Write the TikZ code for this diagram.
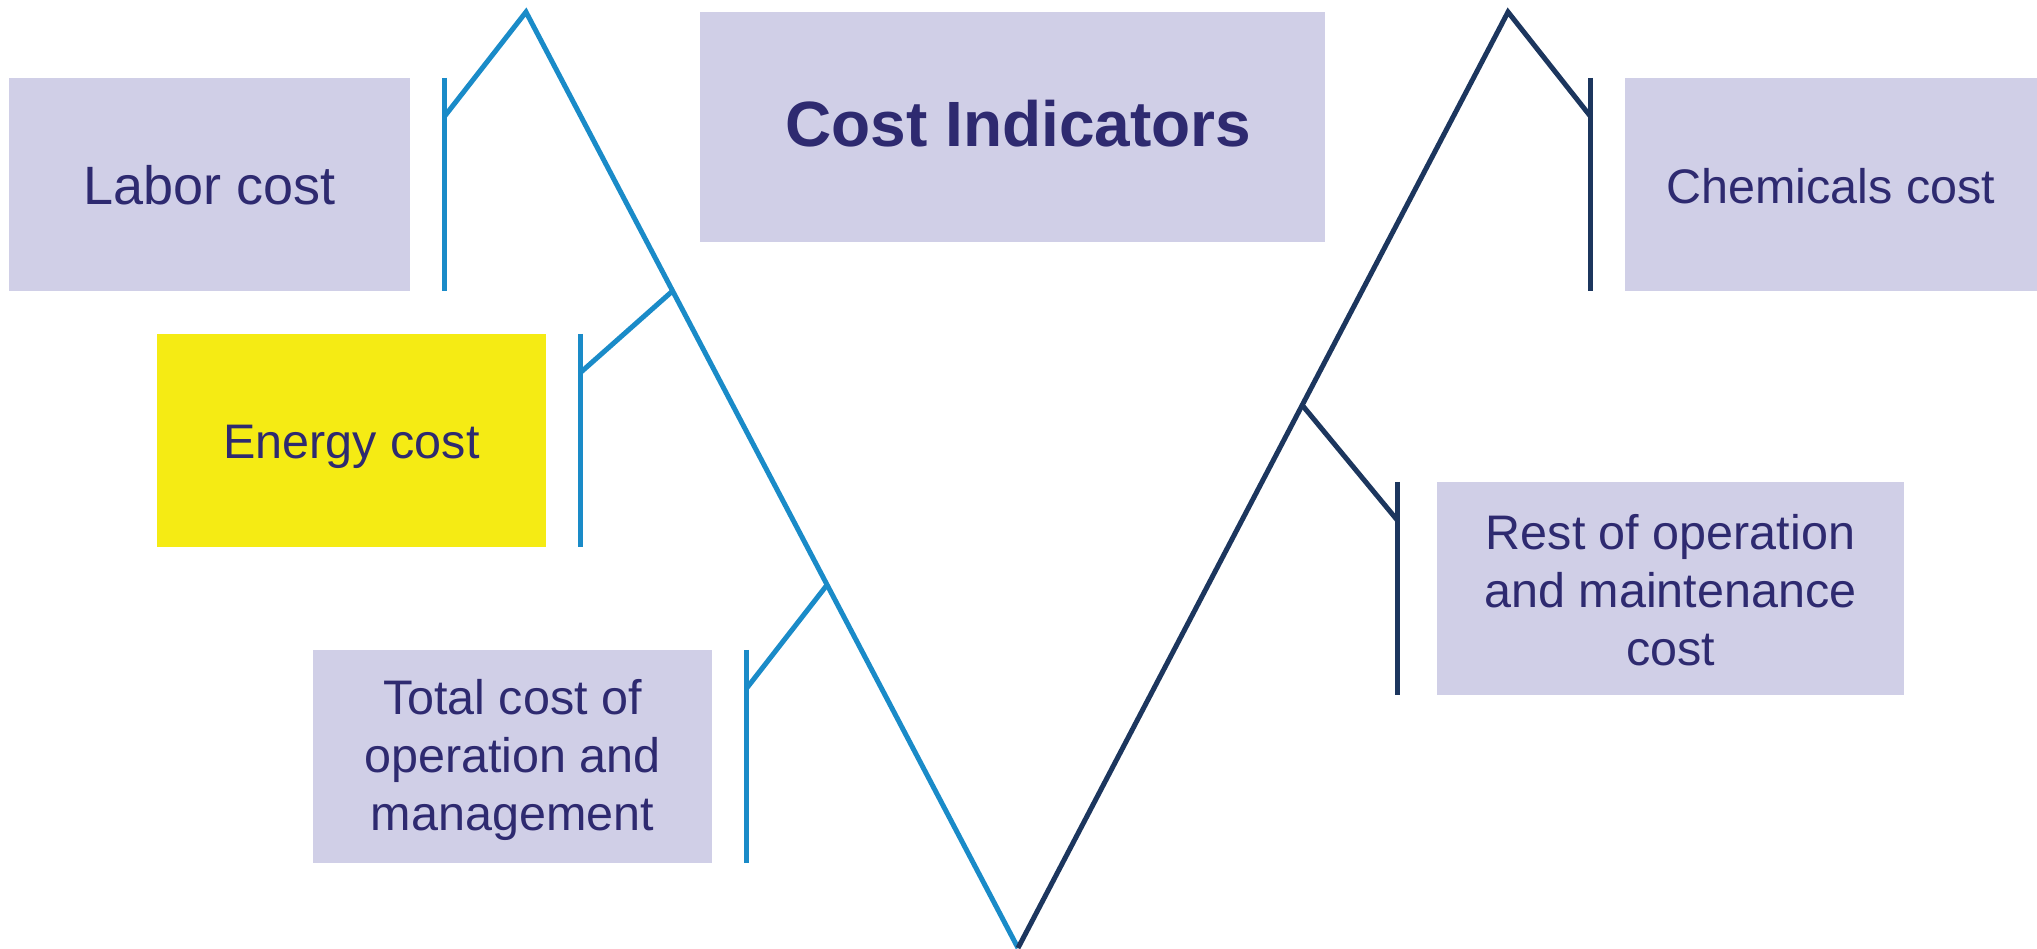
\documentclass[tikz,border=0pt]{standalone}
\usepackage{fontspec}
\setmainfont{Liberation Sans}
\usetikzlibrary{calc}

\definecolor{lavender}{HTML}{D0CFE7}
\definecolor{ink}{HTML}{2E2A70}
\definecolor{skyline}{HTML}{1A8BC8}
\definecolor{navyline}{HTML}{1C365E}
\definecolor{marker}{HTML}{F5EB14}

\tikzstyle{cost box}=[rectangle, fill=lavender, text=ink, align=center, minimum height=213pt, inner sep=0pt, text depth=0pt]
\tikzstyle{small text}=[font=\fontsize{48.5}{58}\selectfont]
\tikzstyle{left arm}=[skyline, line width=5pt]
\tikzstyle{right arm}=[navyline, line width=5pt]

\begin{document}
\begin{tikzpicture}[x=1pt, y=-1pt]
	\useasboundingbox (0,0) rectangle (2037,948);

	% Indicator boxes
	\node[cost box, minimum width=401pt, text height=39pt, font=\fontsize{54}{65}\selectfont] (labor) at (209.5,184.5) {Labor cost};
	\node[cost box, small text, fill=marker, minimum width=389pt, text height=35pt] (energy) at (351.5,440.5) {Energy cost};
	\node[cost box, small text, minimum width=399pt, text height=147pt] (total) at (512.5,756.5) {Total cost of\\operation and\\management};
	\node[cost box, minimum width=625pt, minimum height=230pt, text height=39pt, font=\fontsize{64}{77}\bfseries] (title) at (1012.5,127) {\hspace*{12pt}Cost Indicators};
	\node[cost box, small text, minimum width=412pt, text height=38pt] (chem) at (1831,184.5) {Chemicals cost};
	\node[cost box, small text, minimum width=467pt, text height=154pt] (rest) at (1670.5,588.5) {Rest of operation\\and maintenance\\cost};

	% The V
	\coordinate (left-apex) at (526,12);
	\coordinate (right-apex) at (1508,12);
	\coordinate (bottom) at (1018,948);
	\coordinate (energy-fork) at ($(left-apex)!0.298!(bottom)$);
	\coordinate (total-fork) at ($(left-apex)!0.612!(bottom)$);
	\coordinate (rest-fork) at ($(bottom)!0.58!(right-apex)$);

	% Ticks beside the boxes
	\foreach \b in {labor, energy, total}{
		\coordinate (\b-top) at ([xshift=34pt]\b.north east);
		\coordinate (\b-foot) at ([xshift=34pt]\b.south east);
		\coordinate (\b-joint) at ([yshift=-39pt]\b-top);
	}
	\coordinate (chem-top) at ([xshift=-34pt]chem.north west);
	\coordinate (chem-foot) at ([xshift=-34pt]chem.south west);
	\coordinate (chem-joint) at ([yshift=-39pt]chem-top);
	\coordinate (rest-top) at ([xshift=-39pt]rest.north west);
	\coordinate (rest-foot) at ([xshift=-39pt]rest.south west);
	\coordinate (rest-joint) at ([yshift=-39pt]rest-top);

	\foreach \b in {labor, energy, total}{ \draw[left arm] (\b-top) -- (\b-foot); }
	\foreach \b in {chem, rest}{ \draw[right arm] (\b-top) -- (\b-foot); }

	\draw[left arm] (labor-joint) -- (left-apex) -- (bottom);
	\draw[left arm] (energy-joint) -- (energy-fork);
	\draw[left arm] (total-joint) -- (total-fork);
	\draw[right arm] (bottom) -- (right-apex) -- (chem-joint);
	\draw[right arm] (rest-fork) -- (rest-joint);
\end{tikzpicture}
\end{document}
